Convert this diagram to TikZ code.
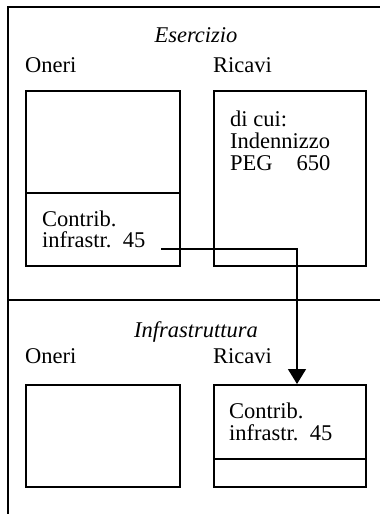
\documentclass[tikz,border=0pt]{standalone}
\usepackage{fontspec}
\setmainfont{Liberation Serif}
\usetikzlibrary{arrows.meta}
\begin{document}
\begin{tikzpicture}[x=1pt,y=-1pt,
  every node/.style={font=\fontsize{22.5pt}{22.5pt}\selectfont, inner sep=0pt},
  rule/.style={line width=1.6pt},
  box/.style={draw, line width=1.6pt, anchor=north west},
  lbl/.style={anchor=base west},
  head/.style={anchor=base, font=\fontsize{22.5pt}{22.5pt}\selectfont\itshape},
  flow/.style={line width=1.6pt, -{Triangle[width=18pt,length=15pt]}}]
\useasboundingbox (0,0) rectangle (380,514);
% frame
\coordinate (tl) at (8,7);
\coordinate (tr) at (380,7);
\coordinate (bl) at (8,514);
\coordinate (ml) at (8,300);
\coordinate (mr) at (380,300);
\draw[rule] (tr) -- (tl) -- (bl);
\draw[rule] (ml) -- (mr);
% upper section
\node[head] (hEs) at (196,42) {Esercizio};
\node[lbl] (uOn) at (25,72) {Oneri};
\node[lbl] (uRi) at (213,72) {Ricavi};
\node[box, minimum width=154pt, minimum height=175pt] (uOb) at (25,90) {};
\node[box, minimum width=152pt, minimum height=175pt] (uRb) at (213,90) {};
\coordinate (d1) at (0,193);
\draw[rule] (uOb.west |- d1) -- (uOb.east |- d1);
\node[lbl] (t1) at (230,126) {di cui:};
\node[lbl] (t2) at (230,148) {Indennizzo};
\node[lbl] (t3) at (230,170) {PEG\hspace{24pt}650};
\node[lbl] (c1) at (42,226) {Contrib.};
\node[lbl] (c2) at (42,247) {infrastr.~~45};
% lower section
\node[head] (hIn) at (196,337) {Infrastruttura};
\node[lbl] (lOn) at (25,363) {Oneri};
\node[lbl] (lRi) at (213,363) {Ricavi};
\node[box, minimum width=154pt, minimum height=102pt] (lOb) at (25,384) {};
\node[box, minimum width=152pt, minimum height=102pt] (lRb) at (213,384) {};
\coordinate (d2) at (0,459);
\draw[rule] (lRb.west |- d2) -- (lRb.east |- d2);
\node[lbl] (c3) at (229,418) {Contrib.};
\node[lbl] (c4) at (229,440) {infrastr.~~45};
% connector
\coordinate (s) at (161,249);
\coordinate (turn) at (297,249);
\draw[flow] (s) -- (turn) -- (turn |- lRb.north);
\end{tikzpicture}
\end{document}
